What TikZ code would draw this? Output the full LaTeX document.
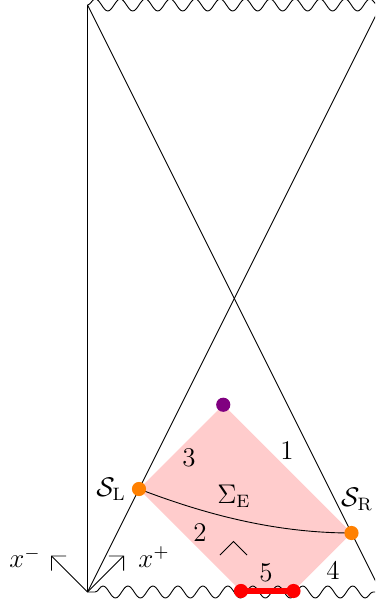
\documentclass[tikz,border=0pt]{standalone}
\usetikzlibrary{decorations.pathmorphing,arrows.meta}
\definecolor{pdot}{RGB}{128,0,128}
\definecolor{pinkfill}{RGB}{255,204,204}
\definecolor{odot}{RGB}{255,128,0}
\begin{document}
\begin{tikzpicture}[x=0.4444pt,y=-0.4444pt,
  font=\fontsize{12}{14}\selectfont,
  dot/.style={circle,inner sep=0pt,minimum size=6.3pt},
  wave/.style={decorate,decoration={snake,segment length=11.1pt,amplitude=2.67pt}},
  lbl/.style={inner sep=0pt},
  >={Straight Barb[angle'=90,length=4.6pt]}]
\useasboundingbox (0,0) rectangle (375,604);
\clip (0,0) rectangle (375,604);
\coordinate (T) at (87.5,5);
\coordinate (B) at (87.5,592);
\coordinate (TR) at (381,5);
\coordinate (BR) at (381,592);
\coordinate (SL) at (139,489);
\coordinate (SR) at (351.5,533);
\coordinate (P) at (223.25,404.75);
\coordinate (A1) at (241,591);
\coordinate (A2) at (293.5,591);
\coordinate (XM) at (51,555.5);
\coordinate (XP) at (124,555.5);
\fill[pinkfill] (P) -- (SR) -- (A2) -- (A1) -- (SL) -- cycle;
\draw (T) -- (B);
\draw (T) -- (BR);
\draw (B) -- (TR);
\draw[wave] (T) -- (TR);
\draw[wave,decoration={pre=lineto,pre length=3.4pt}] (B) -- (BR);
\draw[->] (B) -- (XM);
\draw[->] (B) -- (XP);
\draw (SL) .. controls (199,512) and (271,533) .. (SR);
\draw (220,555) -- (233.5,541.5) -- (247,555);
\draw[red,line width=3.1pt] (A1) -- (A2);
\node[dot,fill=red] (r1) at (A1) {};
\node[dot,fill=red] (r2) at (A2) {};
\node[dot,fill=odot] (dSL) at (SL) {};
\node[dot,fill=odot] (dSR) at (SR) {};
\node[dot,fill=pdot] (dP) at (P) {};
\node[lbl] (lxm) at (25,557.5) {$x^-$};
\node[lbl] (lxp) at (154,557) {$x^+$};
\node[lbl] (l1) at (287,451) {1};
\node[lbl] (l2) at (200,533) {2};
\node[lbl] (l3) at (189,458) {3};
\node[lbl] (l4) at (333,570) {4};
\node[lbl] (l5) at (266,573) {5};
\node[lbl] (lSL) at (111,489) {$\mathcal{S}_{\rm L}$};
\node[lbl] (lSR) at (357,499) {$\mathcal{S}_{\rm R}$};
\node[lbl] (lSig) at (234,496) {$\Sigma_{\rm E}$};
\end{tikzpicture}
\end{document}
